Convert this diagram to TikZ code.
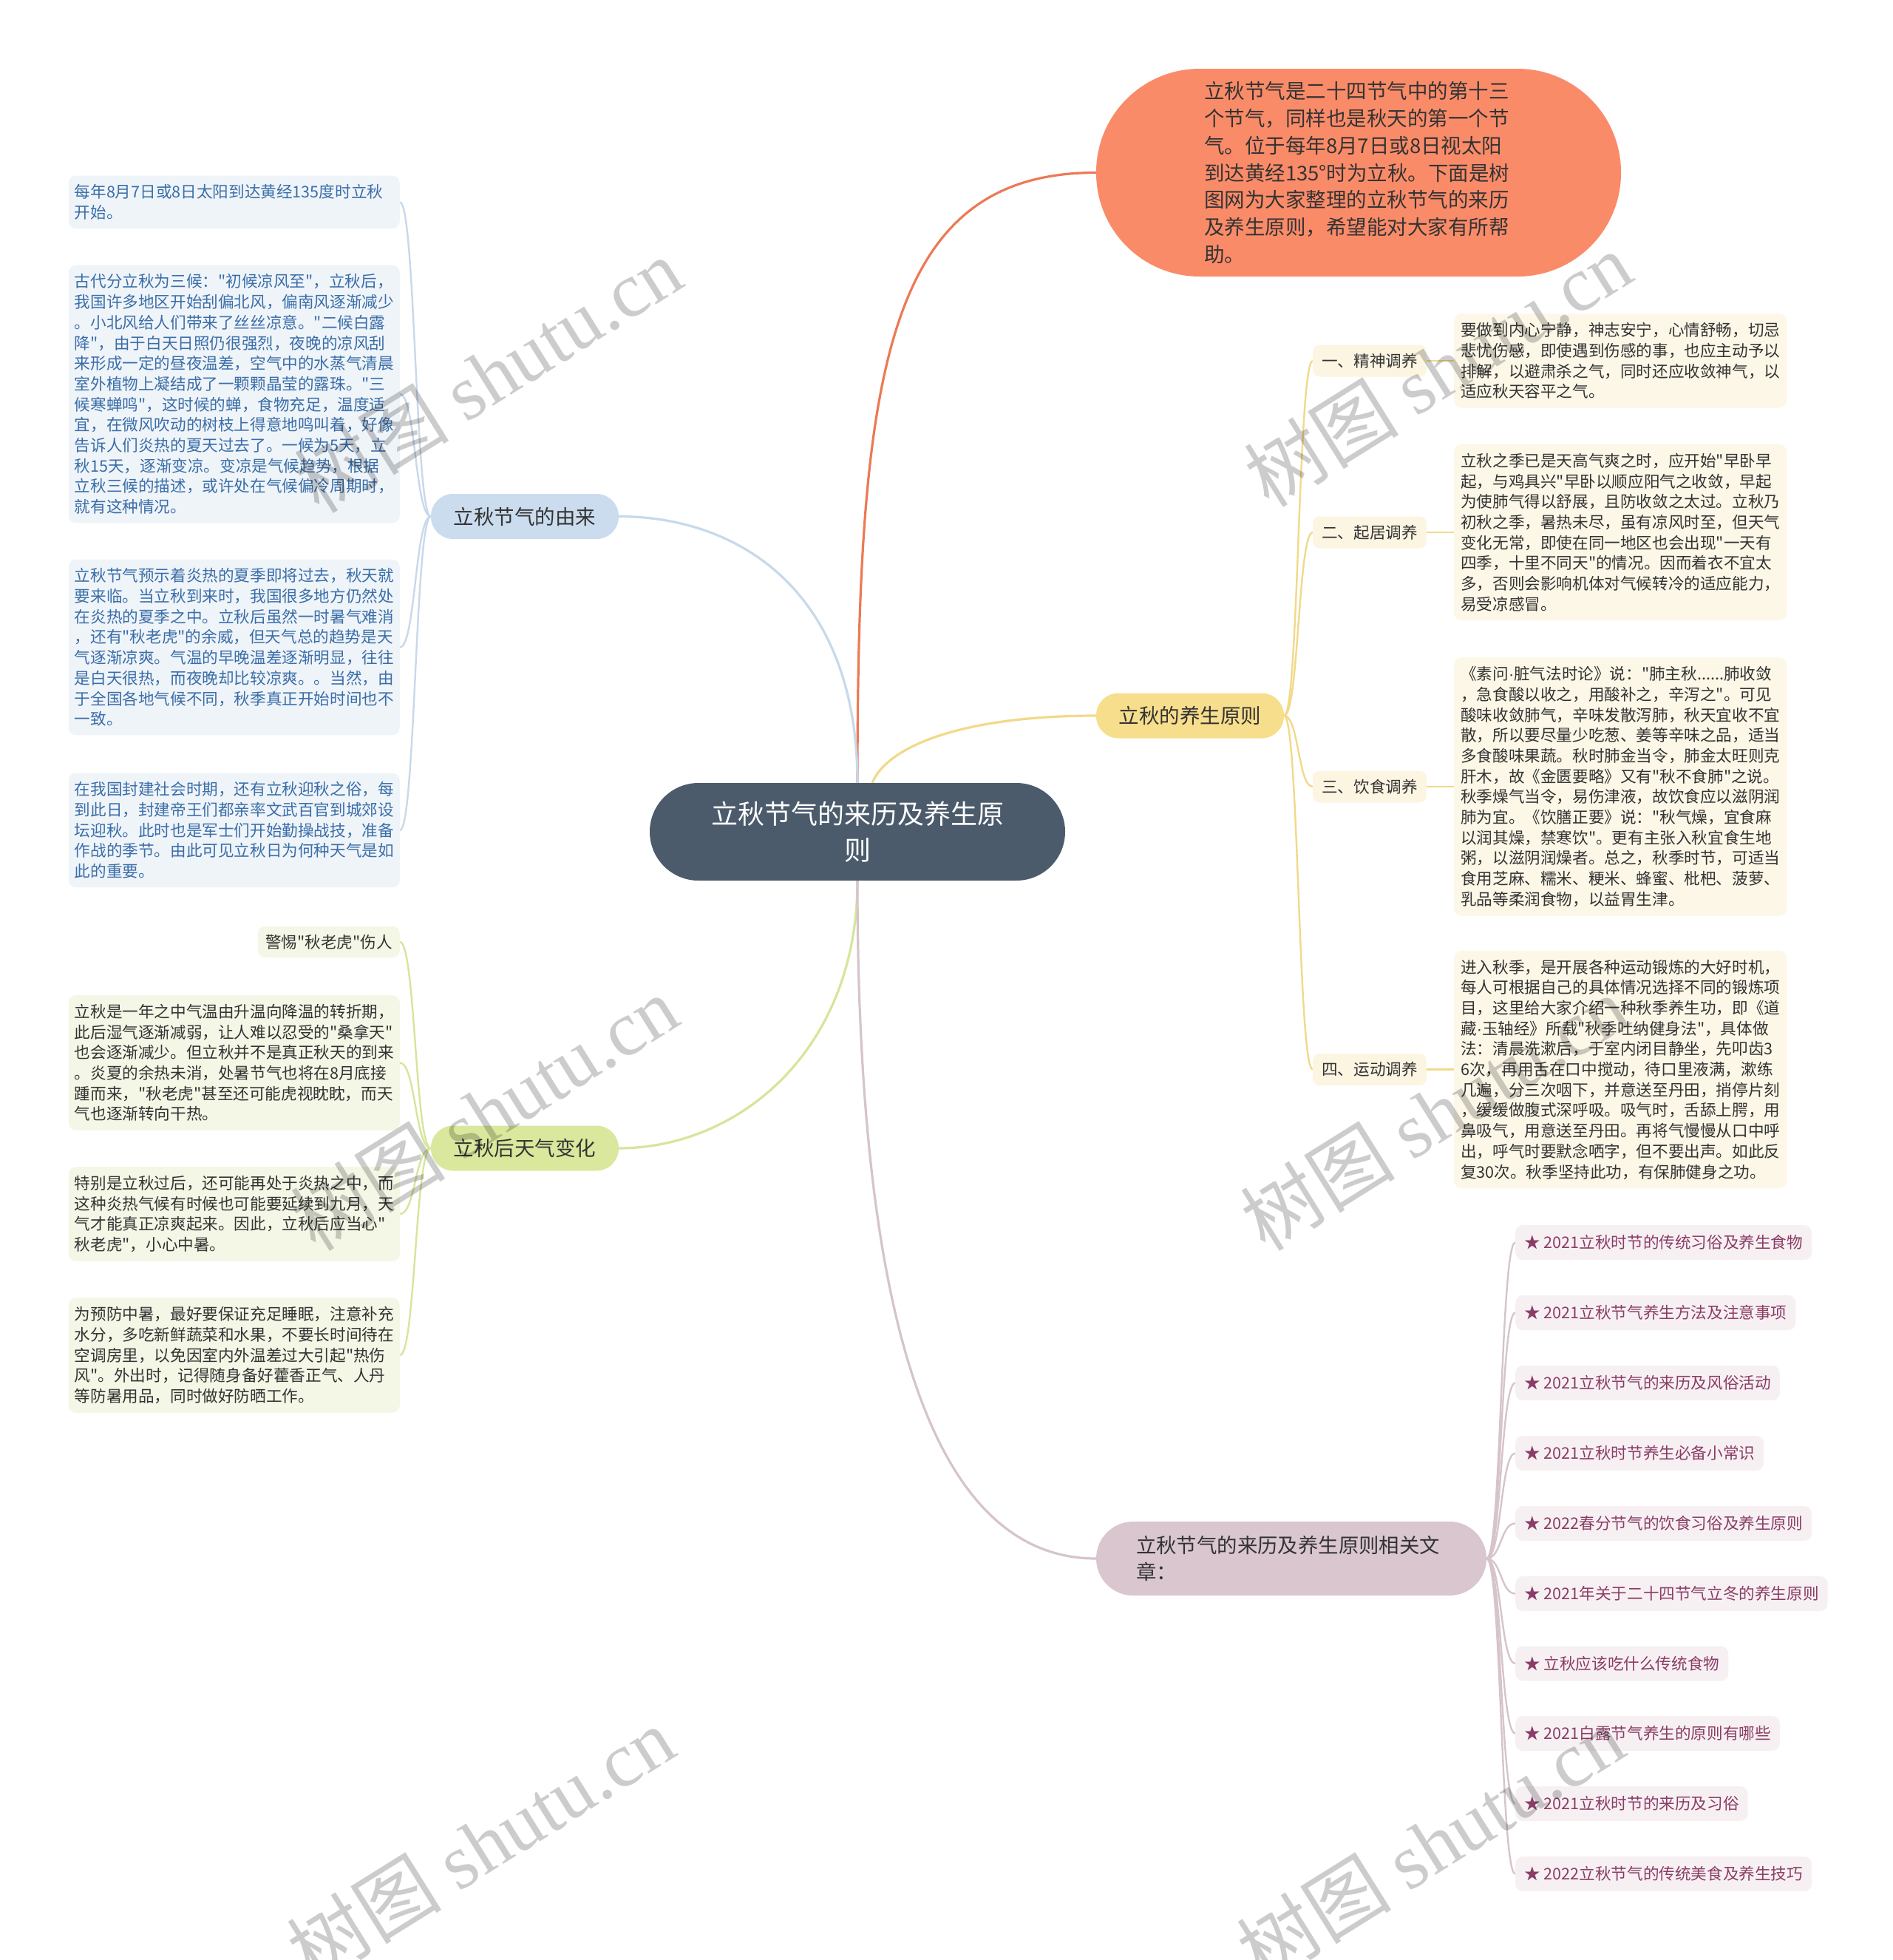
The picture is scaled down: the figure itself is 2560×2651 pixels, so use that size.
\documentclass[tikz,border=0pt]{standalone}
\usepackage{fontspec}
\setmainfont{Noto Sans CJK SC}[Ligatures=TeXOff]
\newfontfamily\wmlatin{Liberation Serif}
\newfontfamily\latinsans{Liberation Sans}[Ligatures=TeXOff]
\newcommand\mdot{{\latinsans ·}}
\usetikzlibrary{calc,backgrounds}
\definecolor{cCenter}{HTML}{4B5B6B}
\definecolor{cOrange}{HTML}{FA8B69}
\definecolor{cOrangeLine}{HTML}{EC7A55}
\definecolor{cBlue}{HTML}{CADCEE}
\definecolor{cBlueLine}{HTML}{C8D9EA}
\definecolor{cBlueBox}{HTML}{EFF4F9}
\definecolor{cBlueText}{HTML}{3A6EA8}
\definecolor{cYellow}{HTML}{F7DE8C}
\definecolor{cYellowLine}{HTML}{F2D98A}
\definecolor{cCream}{HTML}{FCF7E7}
\definecolor{cTag}{HTML}{FCF5E2}
\definecolor{cGreen}{HTML}{D9E89D}
\definecolor{cGreenLine}{HTML}{D5E69B}
\definecolor{cGreenBox}{HTML}{F4F7E6}
\definecolor{cMauve}{HTML}{D9C6CF}
\definecolor{cMauveLine}{HTML}{D6C4CC}
\definecolor{cPinkBox}{HTML}{F7F0F3}
\definecolor{cPlum}{HTML}{8A3D66}
\definecolor{cDark}{HTML}{333333}
\newcommand\myBody{\fontsize{21.6}{27.7}\selectfont}
\tikzset{
  centernode/.style={fill=cCenter, text=white, rounded corners=66pt, minimum width=562pt, minimum height=132pt, align=center, inner sep=0pt, font=\fontsize{36}{49}\selectfont},
  intronode/.style={fill=cOrange, text=cDark, rounded corners=140pt, minimum width=710pt, minimum height=281pt, text width=418pt, align=left, inner sep=0pt, font=\fontsize{27.5}{36.7}\selectfont},
  branchnode/.style={rounded corners=30pt, minimum width=254pt, minimum height=61pt, text=cDark, inner sep=0pt, font=\fontsize{27.5}{36}\selectfont},
  relnode/.style={fill=cMauve, text=cDark, rounded corners=50pt, minimum width=528pt, minimum height=100pt, text width=420pt, align=left, inner sep=0pt, font=\fontsize{27.4}{35.5}\selectfont},
  bluetext/.style={anchor=east, fill=cBlueBox, text=cBlueText, rounded corners=10pt, text width=432pt, align=left, inner xsep=8pt, inner ysep=12pt, font=\myBody},
  greentext/.style={anchor=east, fill=cGreenBox, text=cDark, rounded corners=10pt, text width=432pt, align=left, inner xsep=8pt, inner ysep=12pt, font=\myBody},
  creamtext/.style={anchor=west, fill=cCream, text=cDark, rounded corners=10pt, text width=432pt, align=left, inner xsep=9pt, inner ysep=12pt, font=\myBody},
  subtag/.style={anchor=west, fill=cTag, text=cDark, rounded corners=9pt, minimum height=43pt, inner xsep=12pt, inner ysep=0pt, font=\myBody},
  greentag/.style={anchor=east, fill=cGreenBox, text=cDark, rounded corners=9pt, minimum height=42pt, inner xsep=10pt, inner ysep=0pt, font=\myBody},
  relitem/.style={anchor=west, fill=cPinkBox, text=cPlum, rounded corners=10pt, minimum height=47pt, inner xsep=12pt, inner ysep=0pt, font=\myBody},
  mainline/.style={line width=3.2pt},
  subline/.style={line width=2.4pt},
  wmark/.style={rotate=32, text=black, text opacity=0.2, inner sep=0pt, font=\fontsize{105}{105}\selectfont}
}
\begin{document}
\begin{tikzpicture}[x=1pt,y=1pt]
\useasboundingbox (0,0) rectangle (2560,-2651);

% centre and main branches
\node[centernode] (center) at (1160,-1125) {立秋节气的来历及养生原\\则};
\node[intronode] (intro) at (1838,-233.5) {立秋节气是二十四节气中的第十三\\个节气，同样也是秋天的第一个节\\气。位于每年8月7日或8日视太阳\\到达黄经135°时为立秋。下面是树\\图网为大家整理的立秋节气的来历\\及养生原则，希望能对大家有所帮\\助。};
\node[branchnode, fill=cBlue] (origin) at (710,-698.5) {立秋节气的由来};
\node[branchnode, fill=cYellow] (health) at (1610,-968) {立秋的养生原则};
\node[branchnode, fill=cGreen] (weather) at (710,-1553) {立秋后天气变化};
\node[relnode] (related) at (1747,-2108) {立秋节气的来历及养生原则相关文\\章：};

% origin children
\node[bluetext] (b1) at (541,-273.5) {每年8月7日或8日太阳到达黄经135度时立秋\\开始。};
\node[bluetext] (b2) at (541,-533) {古代分立秋为三候："初候凉风至"，立秋后，\\我国许多地区开始刮偏北风，偏南风逐渐减少\\。小北风给人们带来了丝丝凉意。"二候白露\\降"，由于白天日照仍很强烈，夜晚的凉风刮\\来形成一定的昼夜温差，空气中的水蒸气清晨\\室外植物上凝结成了一颗颗晶莹的露珠。"三\\候寒蝉鸣"，这时候的蝉，食物充足，温度适\\宜，在微风吹动的树枝上得意地鸣叫着，好像\\告诉人们炎热的夏天过去了。一候为5天，立\\秋15天，逐渐变凉。变凉是气候趋势，根据\\立秋三候的描述，或许处在气候偏冷周期时，\\就有这种情况。};
\node[bluetext] (b3) at (541,-875.5) {立秋节气预示着炎热的夏季即将过去，秋天就\\要来临。当立秋到来时，我国很多地方仍然处\\在炎热的夏季之中。立秋后虽然一时暑气难消\\，还有"秋老虎"的余威，但天气总的趋势是天\\气逐渐凉爽。气温的早晚温差逐渐明显，往往\\是白天很热，而夜晚却比较凉爽。。当然，由\\于全国各地气候不同，秋季真正开始时间也不\\一致。};
\node[bluetext] (b4) at (541,-1123) {在我国封建社会时期，还有立秋迎秋之俗，每\\到此日，封建帝王们都亲率文武百官到城郊设\\坛迎秋。此时也是军士们开始勤操战技，准备\\作战的季节。由此可见立秋日为何种天气是如\\此的重要。};

% weather children
\node[greentag] (g1) at (541,-1274) {警惕"秋老虎"伤人};
\node[greentext] (g2) at (541,-1437.5) {立秋是一年之中气温由升温向降温的转折期，\\此后湿气逐渐减弱，让人难以忍受的"桑拿天"\\也会逐渐减少。但立秋并不是真正秋天的到来\\。炎夏的余热未消，处暑节气也将在8月底接\\踵而来，"秋老虎"甚至还可能虎视眈眈，而天\\气也逐渐转向干热。};
\node[greentext] (g3) at (541,-1642) {特别是立秋过后，还可能再处于炎热之中，而\\这种炎热气候有时候也可能要延续到九月，天\\气才能真正凉爽起来。因此，立秋后应当心"\\秋老虎"，小心中暑。};
\node[greentext] (g4) at (541,-1833) {为预防中暑，最好要保证充足睡眠，注意补充\\水分，多吃新鲜蔬菜和水果，不要长时间待在\\空调房里，以免因室内外温差过大引起"热伤\\风"。外出时，记得随身备好藿香正气、人丹\\等防暑用品，同时做好防晒工作。};

% health children
\node[subtag] (t1) at (1776,-488) {一、精神调养};
\node[subtag] (t2) at (1776,-720) {二、起居调养};
\node[subtag] (t3) at (1776,-1064) {三、饮食调养};
\node[subtag] (t4) at (1776,-1446.5) {四、运动调养};
\node[creamtext] (y1) at (1967,-488) {要做到内心宁静，神志安宁，心情舒畅，切忌\\悲忧伤感，即使遇到伤感的事，也应主动予以\\排解，以避肃杀之气，同时还应收敛神气，以\\适应秋天容平之气。};
\node[creamtext] (y2) at (1967,-720) {立秋之季已是天高气爽之时，应开始"早卧早\\起，与鸡具兴"早卧以顺应阳气之收敛，早起\\为使肺气得以舒展，且防收敛之太过。立秋乃\\初秋之季，暑热未尽，虽有凉风时至，但天气\\变化无常，即使在同一地区也会出现"一天有\\四季，十里不同天"的情况。因而着衣不宜太\\多，否则会影响机体对气候转冷的适应能力，\\易受凉感冒。};
\node[creamtext] (y3) at (1967,-1064) {《素问\mdot 脏气法时论》说："肺主秋......肺收敛\\，急食酸以收之，用酸补之，辛泻之"。可见\\酸味收敛肺气，辛味发散泻肺，秋天宜收不宜\\散，所以要尽量少吃葱、姜等辛味之品，适当\\多食酸味果蔬。秋时肺金当令，肺金太旺则克\\肝木，故《金匮要略》又有"秋不食肺"之说。\\秋季燥气当令，易伤津液，故饮食应以滋阴润\\肺为宜。《饮膳正要》说："秋气燥，宜食麻\\以润其燥，禁寒饮"。更有主张入秋宜食生地\\粥，以滋阴润燥者。总之，秋季时节，可适当\\食用芝麻、糯米、粳米、蜂蜜、枇杷、菠萝、\\乳品等柔润食物，以益胃生津。};
\node[creamtext] (y4) at (1967,-1446.5) {进入秋季，是开展各种运动锻炼的大好时机，\\每人可根据自己的具体情况选择不同的锻炼项\\目，这里给大家介绍一种秋季养生功，即《道\\藏\mdot 玉轴经》所载"秋季吐纳健身法"，具体做\\法：清晨洗漱后，于室内闭目静坐，先叩齿3\\6次，再用舌在口中搅动，待口里液满，漱练\\几遍，分三次咽下，并意送至丹田，捎停片刻\\，缓缓做腹式深呼吸。吸气时，舌舔上腭，用\\鼻吸气，用意送至丹田。再将气慢慢从口中呼\\出，呼气时要默念哂字，但不要出声。如此反\\复30次。秋季坚持此功，有保肺健身之功。};

% related articles
\node[relitem] (r1) at (2050,-1680.5) {★ 2021立秋时节的传统习俗及养生食物};
\node[relitem] (r2) at (2050,-1775.5) {★ 2021立秋节气养生方法及注意事项};
\node[relitem] (r3) at (2050,-1870.5) {★ 2021立秋节气的来历及风俗活动};
\node[relitem] (r4) at (2050,-1965.5) {★ 2021立秋时节养生必备小常识};
\node[relitem] (r5) at (2050,-2060.5) {★ 2022春分节气的饮食习俗及养生原则};
\node[relitem] (r6) at (2050,-2155.5) {★ 2021年关于二十四节气立冬的养生原则};
\node[relitem] (r7) at (2050,-2250) {★ 立秋应该吃什么传统食物};
\node[relitem] (r8) at (2050,-2344.5) {★ 2021白露节气养生的原则有哪些};
\node[relitem] (r9) at (2050,-2439.5) {★ 2021立秋时节的来历及习俗};
\node[relitem] (r10) at (2050,-2534.5) {★ 2022立秋节气的传统美食及养生技巧};

\begin{scope}[on background layer]
\fill[white] (0,0) rectangle (2560,-2651);
% main connectors
\draw[mainline, cOrangeLine] (center.north) .. controls (1160,-500) and (1200,-233.5) .. (intro.west);
\draw[mainline, cBlueLine] (center.north) .. controls (1160,-800) and (1000,-698.5) .. (origin.east);
\coordinate (yst) at ($(center.north)+(20,0)$);
\draw[mainline, cYellowLine] (yst) .. controls (1200,-1010) and (1300,-968) .. (health.west);
\draw[mainline, cGreenLine] (center.south) .. controls (1160,-1420) and (1000,-1553) .. (weather.east);
\draw[mainline, cMauveLine] (center.south) .. controls (1160,-1750) and (1250,-2108) .. (related.west);
% origin
\foreach \n in {b1,b2,b3,b4}
  \draw[subline, cBlueLine] (origin.west) to[out=180,in=0,distance=21pt] (\n.east);
% weather
\foreach \n in {g1,g2,g3,g4}
  \draw[subline, cGreenLine] (weather.west) to[out=180,in=0,distance=21pt] (\n.east);
% health
\foreach \n in {t1,t2,t3,t4}
  \draw[subline, cYellowLine] (health.east) to[out=0,in=180,distance=20pt] (\n.west);
\draw[subline, cYellowLine] (t1.east) -- (y1.west);
\draw[subline, cYellowLine] (t2.east) -- (y2.west);
\draw[subline, cYellowLine] (t3.east) -- (y3.west);
\draw[subline, cYellowLine] (t4.east) -- (y4.west);
% related
\foreach \n in {r1,r2,r3,r4,r5,r6,r7,r8,r9,r10}
  \draw[subline, cMauveLine] (related.east) to[out=0,in=180,distance=20pt] (\n.west);
\end{scope}

% watermarks
\node[wmark] (wm1) at (660,-507) {树图 {\wmlatin shutu.cn}};
\node[wmark] (wm2) at (1945,-499) {树图 {\wmlatin shutu.cn}};
\node[wmark] (wm3) at (655,-1505) {树图 {\wmlatin shutu.cn}};
\node[wmark] (wm4) at (1940,-1505) {树图 {\wmlatin shutu.cn}};
\node[wmark] (wm5) at (650,-2494) {树图 {\wmlatin shutu.cn}};
\node[wmark] (wm6) at (1935,-2494) {树图 {\wmlatin shutu.cn}};
\end{tikzpicture}
\end{document}
